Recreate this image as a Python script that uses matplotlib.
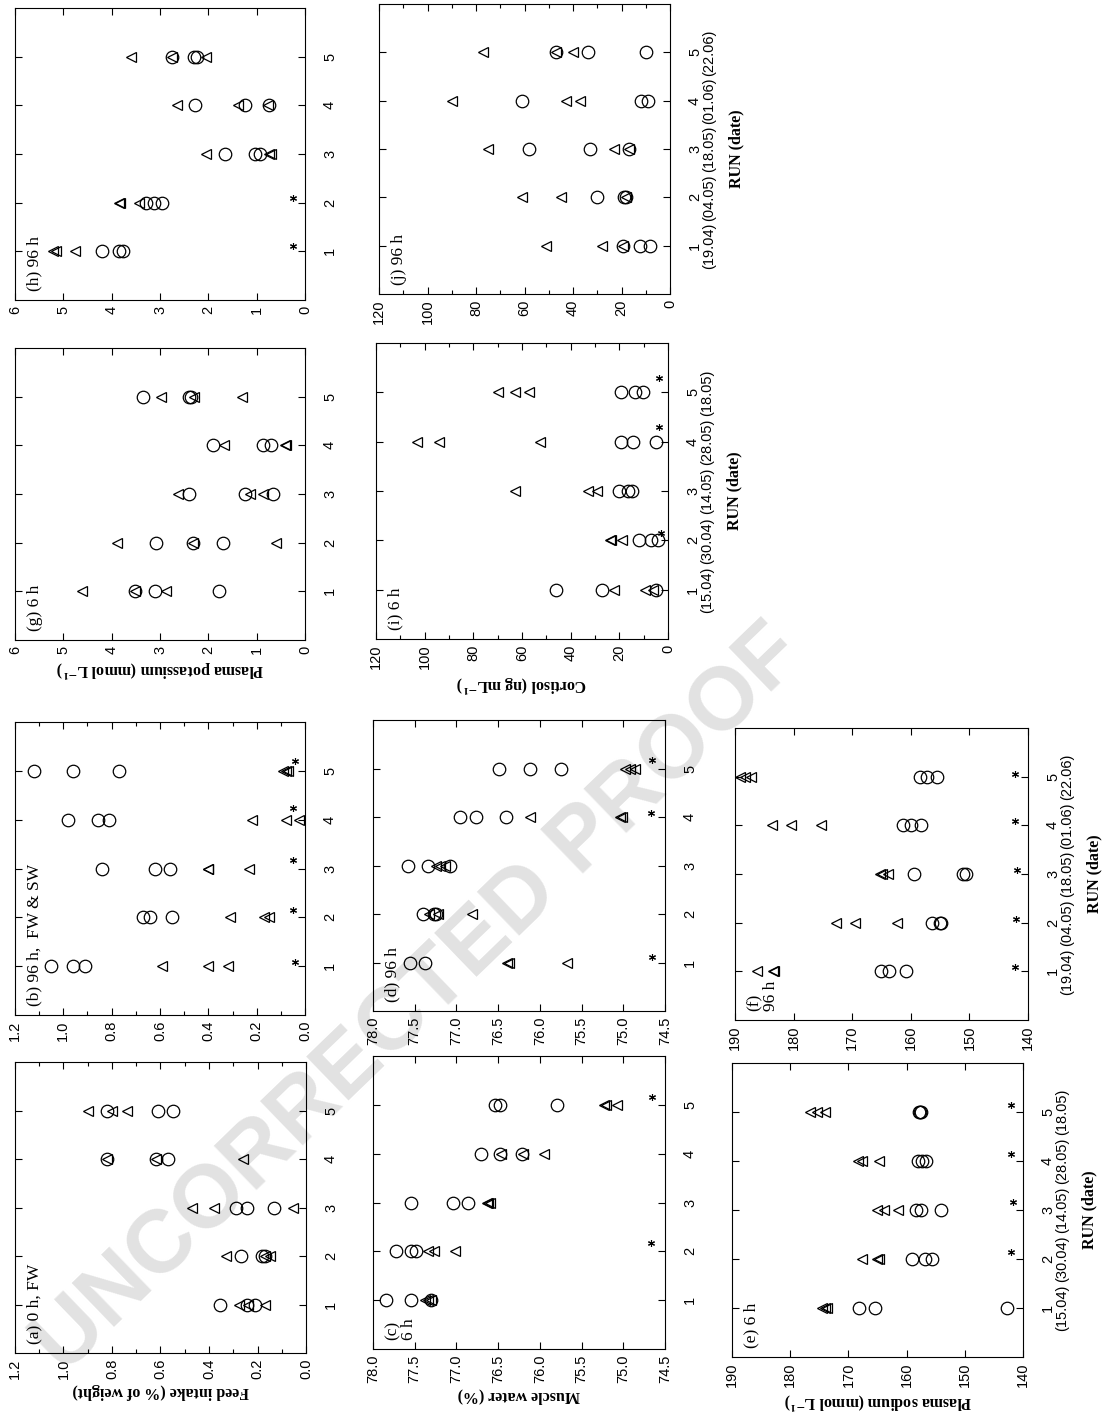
import numpy as np
import matplotlib.pyplot as plt
from matplotlib.ticker import MultipleLocator, FormatStrFormatter

plt.rcParams['font.family'] = ['Liberation Sans', 'DejaVu Sans']
plt.rcParams['mathtext.fontset'] = 'stix'

runs = [1, 2, 3, 4, 5]
dates_6h = ['(15.04)', '(30.04)', '(14.05)', '(28.05)', '(18.05)']
dates_96h = ['(19.04)', '(04.05)', '(18.05)', '(01.06)', '(22.06)']

# feed intake (% of weight), one list per run
a_circ = [[0.355, 0.245, 0.21], [0.27, 0.18, 0.17], [0.29, 0.245, 0.13], [0.82, 0.62, 0.57], [0.82, 0.61, 0.55]]
a_tri = [[0.275, 0.24, 0.17], [0.33, 0.17, 0.15], [0.47, 0.38, 0.055], [0.82, 0.62, 0.26], [0.90, 0.80, 0.74]]
b_circ = [[1.05, 0.96, 0.91], [0.67, 0.64, 0.55], [0.84, 0.62, 0.56], [0.98, 0.855, 0.81], [1.12, 0.96, 0.77]]
b_tri = [[0.59, 0.40, 0.32], [0.31, 0.17, 0.15], [0.40, 0.40, 0.23], [0.22, 0.08, 0.025], [0.09, 0.08, 0.07]]
b_star_run = [1.08, 2.15, 3.17, 4.24, 5.2]
b_star_val = [0.04, 0.05, 0.05, 0.05, 0.04]

# muscle water (%)
c_circ = [[77.84, 77.54, 77.31], [77.72, 77.54, 77.48], [77.54, 77.04, 76.86], [76.70, 76.48, 76.22], [76.54, 76.48, 75.80]]
c_tri = [[77.38, 77.34, 77.30], [77.34, 77.27, 77.02], [76.63, 76.62, 76.60], [76.46, 76.20, 75.95], [75.23, 75.21, 75.08]]
c_star_run = [2.17, 5.16]
c_star_val = [74.67, 74.66]
d_circ = [[77.56, 77.38], [77.40, 77.27, 77.24], [77.58, 77.34, 77.08], [76.96, 76.77, 76.40], [76.49, 76.12, 75.75]]
d_tri = [[76.39, 76.37, 75.68], [77.33, 77.22, 76.81], [77.24, 77.20, 77.14], [76.12, 75.04, 75.02], [74.98, 74.92, 74.86]]
d_star_run = [1.11, 4.09, 5.17]
d_star_val = [74.66, 74.67, 74.66]

# plasma sodium (mmol/L)
e_circ = [[168.2, 165.4, 142.7], [159.1, 156.9, 155.7], [158.3, 157.5, 154.1], [158.1, 157.3, 156.6], [157.8, 157.7, 157.6]]
e_tri = [[174.6, 174.0, 173.7], [167.6, 165.1, 164.7], [165.1, 163.8, 161.5], [168.3, 167.7, 164.7], [176.6, 175.4, 174.1]]
e_star_run = [2.14, 3.16, 4.14, 5.15]
e_star_val = [142.0, 141.7, 142.0, 142.0]
f_circ = [[165.1, 163.7, 160.9], [156.3, 155.0, 154.9], [159.4, 151.1, 150.6], [161.4, 160.0, 158.3], [158.5, 157.3, 155.6]]
f_tri = [[186.3, 183.6, 183.4], [172.7, 169.5, 162.3], [165.3, 164.9, 163.9], [183.7, 180.4, 175.4], [189.1, 188.3, 187.3]]
f_star_run = [1.09, 2.08, 3.09, 4.08, 5.05]
f_star_val = [142.2, 142.0, 141.9, 142.2, 142.2]

# plasma potassium (mmol/L)
g_circ = [[3.52, 3.10, 1.77], [3.08, 2.31, 1.70], [2.41, 1.24, 0.66], [1.90, 0.86, 0.70], [3.35, 2.41, 2.35]]
g_tri = [[4.62, 3.52, 2.88], [3.90, 2.31, 0.60], [2.62, 1.14, 0.86], [1.68, 0.42, 0.40], [2.97, 2.30, 1.30]]
h_circ = [[4.19, 3.85, 3.76], [3.28, 3.12, 2.95], [1.66, 1.03, 0.93], [2.28, 1.25, 0.75], [2.75, 2.30, 2.24]]
h_tri = [[5.22, 5.15, 4.76], [3.85, 3.83, 3.43], [2.05, 0.75, 0.70], [2.65, 1.38, 0.77], [3.60, 2.75, 2.05]]
h_star_run = [1.1, 2.1]
h_star_val = [0.24, 0.24]

# cortisol (ng/mL)
i_circ = [[46, 27, 5], [12, 7, 4], [20, 16.5, 15], [19.5, 14.4, 5], [19.5, 13.7, 10.3]]
i_tri = [[22, 9.5, 6], [24, 23.5, 19], [63, 33, 29], [103, 94, 52.4], [70, 63, 57]]
i_star_run = [2.15, 4.3, 5.3]
i_star_val = [3.0, 3.5, 3.5]
j_circ = [[19.5, 12.3, 8.2], [30, 19, 18], [58, 33, 17], [61, 12, 9], [47, 34, 10]]
j_tri = [[51, 28, 19.5], [61, 45, 18], [75, 23, 17], [90, 43, 37], [77, 47, 40]]

W, H = 1107, 1413
fig = plt.figure(figsize=(W / 100, H / 100), dpi=100)

# watermark, kept inside the page
fig.text(420 / W, 1 - 1000 / H, 'UNCORRECTED PROOF', rotation=44, ha='center', va='center',
         fontsize=64, fontweight='bold', color='#e2e2e2', family='Liberation Sans', zorder=-5)

serif = ['Liberation Serif', 'DejaVu Serif']


def panel(box, circ, tri, lim, major, minor, fmt, tag, star=None, xlabel=None, dates=None):
    x0, y0, x1, y1 = box
    ax = fig.add_axes([x0 / W, 1 - y1 / H, (x1 - x0) / W, (y1 - y0) / H])
    ax.set_facecolor('none')
    for r, vals in zip(runs, circ):
        ax.plot(vals, [r] * len(vals), 'o', mfc='none', mec='k', ms=9, mew=0.9, ls='none')
    for r, vals in zip(runs, tri):
        ax.plot(vals, [r] * len(vals), '<', mfc='none', mec='k', ms=7.5, mew=0.9, ls='none')
    if star is not None:
        ax.plot(star[1], star[0], ls='none', marker=(6, 2, 0), color='k', ms=5, mew=0.8)
    ax.set_xlim(lim[1], lim[0])
    ax.set_ylim(0, 6)
    ax.xaxis.set_major_locator(MultipleLocator(major))
    if minor:
        ax.xaxis.set_minor_locator(MultipleLocator(minor))
    ax.xaxis.set_major_formatter(FormatStrFormatter(fmt))
    if dates is None:
        labels = [str(r) for r in runs]
    else:
        labels = ['%d\n%s' % (r, d) for r, d in zip(runs, dates)]
    ax.set_yticks(runs)
    ax.set_yticklabels(labels, rotation=90, va='center', ha='left', multialignment='center',
                       linespacing=1.0)
    ax.yaxis.tick_right()
    ax.tick_params(which='both', direction='in', top=True, bottom=True, left=True, right=True,
                   width=0.8, labelsize=10.5)
    ax.tick_params(which='major', length=5)
    ax.tick_params(which='minor', length=3)
    ax.tick_params(axis='x', labelrotation=90, pad=4)
    ax.tick_params(axis='y', pad=13)
    for s in ax.spines.values():
        s.set_linewidth(0.8)
    ax.text(0.04, 0.03, tag, transform=ax.transAxes, rotation=90, rotation_mode='anchor',
            ha='left', va='top', family=serif, fontsize=12.5, linespacing=1.0)
    if xlabel:
        ax.set_xlabel(xlabel, rotation=180, family=serif, fontweight='bold', fontsize=11.5, labelpad=3)
    if dates is not None:
        ax.yaxis.set_label_position('right')
        ax.set_ylabel('RUN (date)', rotation=90, family=serif, fontweight='bold', fontsize=11.5,
                      labelpad=9)
    return ax


unit = r'$^{\mathbf{-1}}$'
panel((15, 8, 305, 300), h_circ, h_tri, (0, 6), 1, None, '%d', '(h) 96 h', star=(h_star_run, h_star_val))
panel((15, 348, 305, 640), g_circ, g_tri, (0, 6), 1, None, '%d', '(g) 6 h',
      xlabel='Plasma potassium (mmol L' + unit + ')')
panel((15, 722, 305, 1015), b_circ, b_tri, (0, 1.2), 0.2, 0.1, '%.1f', '(b) 96 h,  FW & SW',
      star=(b_star_run, b_star_val))
panel((15, 1062, 306, 1353), a_circ, a_tri, (0, 1.2), 0.2, 0.1, '%.1f', '(a) 0 h, FW',
      xlabel='Feed intake (% of weight)')
panel((379, 4, 670, 294), j_circ, j_tri, (0, 120), 20, 10, '%d', '(j) 96 h', dates=dates_96h)
panel((376, 343, 668, 639), i_circ, i_tri, (0, 120), 20, 10, '%d', '(i) 6 h',
      star=(i_star_run, i_star_val), xlabel='Cortisol (ng mL' + unit + ')', dates=dates_6h)
panel((373, 720, 665, 1011), d_circ, d_tri, (74.5, 78), 0.5, None, '%.1f', '(d) 96 h',
      star=(d_star_run, d_star_val))
panel((373, 1056, 665, 1349), c_circ, c_tri, (74.5, 78), 0.5, None, '%.1f', '(c)\n6 h',
      star=(c_star_run, c_star_val), xlabel='Muscle water (%)')
panel((735, 728, 1028, 1020), f_circ, f_tri, (140, 190), 10, None, '%d', '(f)\n96 h',
      star=(f_star_run, f_star_val), dates=dates_96h)
panel((732, 1063, 1023, 1357), e_circ, e_tri, (140, 190), 10, None, '%d', '(e) 6 h',
      star=(e_star_run, e_star_val), xlabel='Plasma sodium (mmol L' + unit + ')', dates=dates_6h)

fig.savefig('out.png', dpi=100, facecolor='white')
